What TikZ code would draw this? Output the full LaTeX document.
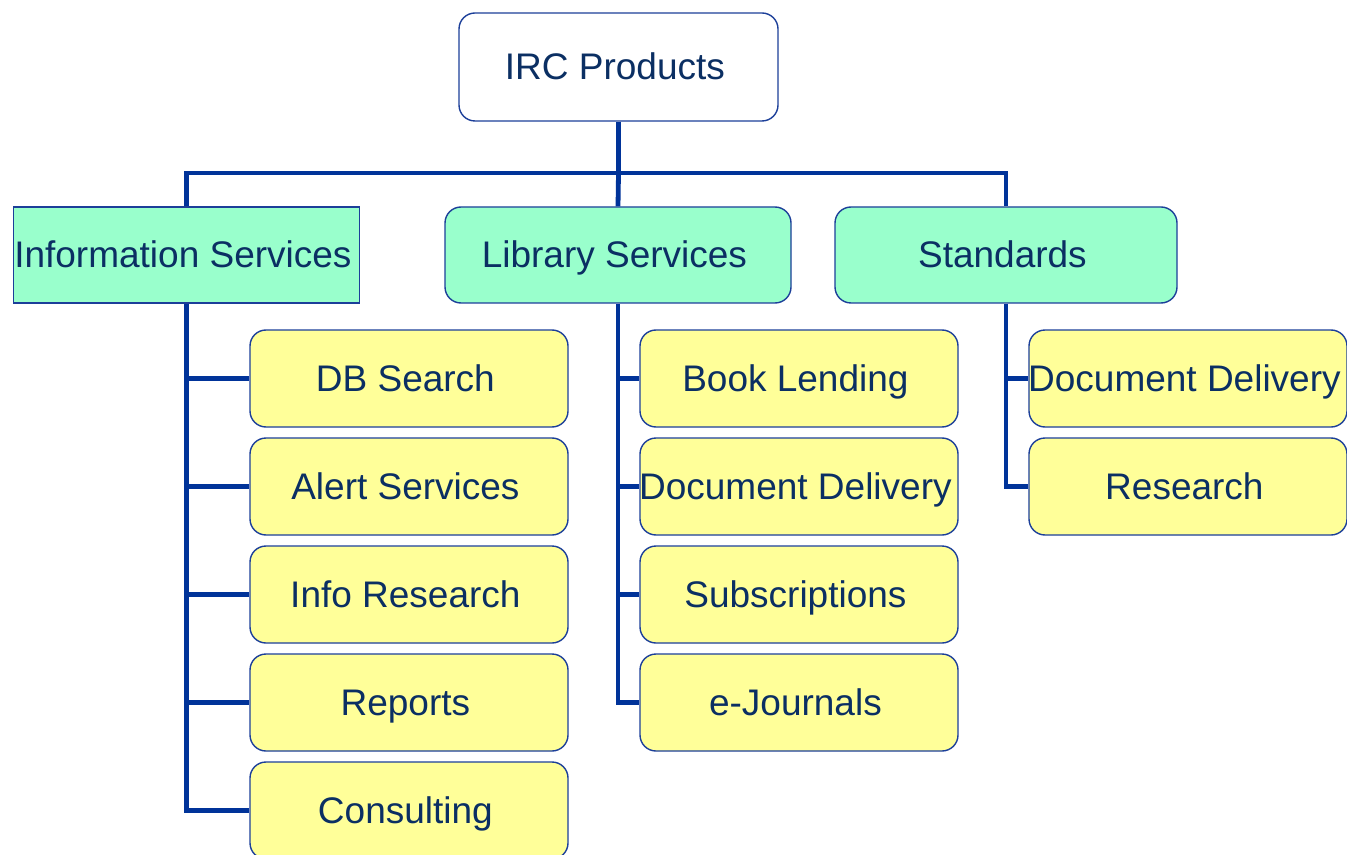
\documentclass[tikz,border=0pt]{standalone}
\usepackage{fontspec}
\setmainfont{Liberation Sans}
\usetikzlibrary{
    positioning
}
\definecolor{navy}{HTML}{0B2F63}
\definecolor{edgeblue}{HTML}{1C3F99}
\definecolor{linkblue}{HTML}{003399}
\definecolor{mint}{HTML}{99FFCC}
\definecolor{lemon}{HTML}{FFFF99}

\begin{document}
\begin{tikzpicture}[
    x=0.5pt, y=-0.5pt,
    box/.style={draw=edgeblue, line width=0.7pt, text=navy, inner sep=0pt,
        font=\fontsize{18.5}{22}\selectfont,
        text height=13.3pt, text depth=0.5pt,
        execute at begin node=\kern-1.8pt, execute at end node=\kern1.8pt},
    rootbox/.style={box, fill=white, rounded corners=8pt,
        minimum width=159.5pt, minimum height=54pt},
    groupbox/.style={box, fill=mint, rounded corners=8pt,
        minimum width=173pt, minimum height=48pt},
    itembox/.style={box, fill=lemon, rounded corners=8pt,
        minimum width=159pt, minimum height=48.5pt},
    link/.style={draw=linkblue, line width=2.4pt}
]
    \useasboundingbox (0,0) rectangle (1347,855);
    \clip (0,0) rectangle (1347,855);

    \node[rootbox] (irc) at (618.5,67) {IRC Products};

    \node[groupbox, rounded corners=0pt] (info) at (186.5,255) {Information Services};
    \node[groupbox] (lib) at (618,255) {Library Services};
    \node[groupbox, minimum width=171pt] (std) at (1006,255) {Standards};

    \node[itembox] (db)  at (409,378.5) {DB Search};
    \node[itembox] (alert) at (409,486.5) {Alert Services};
    \node[itembox] (inres) at (409,594.5) {Info Research};
    \node[itembox] (rep) at (409,702.5) {Reports};
    \node[itembox] (cons) at (409,810.5) {Consulting};

    \node[itembox] (book) at (799,378.5) {Book Lending};
    \node[itembox] (ddlib) at (799,486.5) {Document Delivery};
    \node[itembox] (subs) at (799,594.5) {Subscriptions};
    \node[itembox] (ejour) at (799,702.5) {e-Journals};

    \node[itembox] (ddstd) at (1188,378.5) {Document Delivery};
    \node[itembox] (res) at (1188,486.5) {Research};

    \coordinate (bus) at (618.5,173);

    \draw[link] (irc.south) -- (bus);
    \draw[link] (info.north) |- (bus) -| (std.north);
    \draw[link] (lib.north) -- (bus);

    \draw[link] (info.south) |- (cons.west);
    \foreach \c in {db,alert,inres,rep}
        \draw[link] (info.south |- \c.west) -- (\c.west);

    \draw[link] (lib.south) |- (ejour.west);
    \foreach \c in {book,ddlib,subs}
        \draw[link] (lib.south |- \c.west) -- (\c.west);

    \draw[link] (std.south) |- (res.west);
    \draw[link] (std.south |- ddstd.west) -- (ddstd.west);
\end{tikzpicture}
\end{document}
